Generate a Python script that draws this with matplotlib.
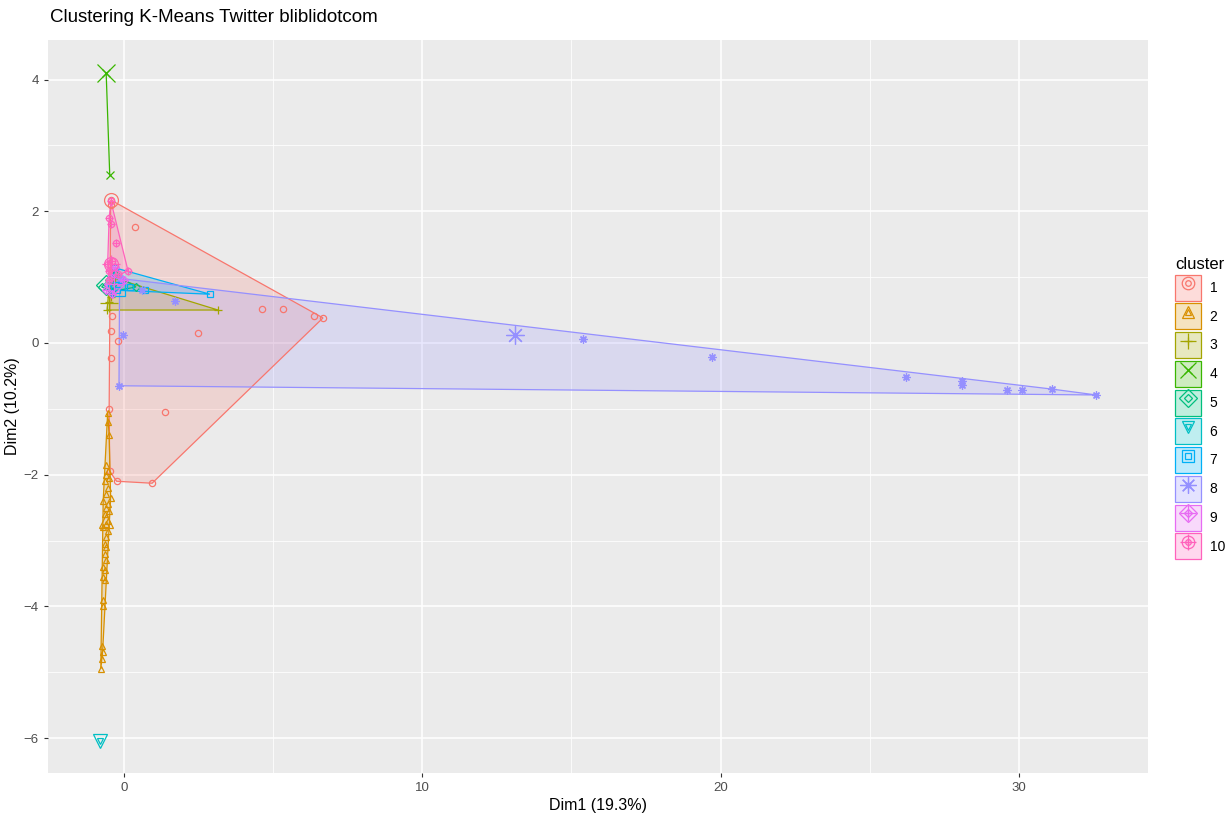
import numpy as np
import matplotlib.pyplot as plt
from matplotlib.patches import Polygon, Patch
from matplotlib.lines import Line2D
from matplotlib.legend_handler import HandlerTuple

plt.rcParams['font.family'] = ['Liberation Sans', 'DejaVu Sans']

# ggplot hue palette for 10 clusters
colors = ["#F8766D", "#D89000", "#A3A500", "#39B600", "#00BF7D",
          "#00BFC4", "#00B0F6", "#9590FF", "#E76BF3", "#FF62BC"]
labels = [str(i) for i in range(1, 11)]

# points (Dim1, Dim2), one list per cluster
cluster_1 = [(-0.44, 2.17), (-0.45, 2.10), (0.37, 1.76), (4.63, 0.52), (5.33, 0.52),
             (6.37, 0.41), (6.67, 0.38), (2.48, 0.15), (-0.42, 0.41), (-0.45, 0.18),
             (-0.20, 0.03), (-0.45, -0.23), (1.37, -1.05), (0.94, -2.13),
             (-0.50, -1.00), (-0.48, -1.95), (-0.25, -2.10)]
cluster_2 = [(-0.55, -1.06), (-0.55, -1.20), (-0.50, -1.40), (-0.60, -1.85), (-0.55, -1.95),
             (-0.60, -2.00), (-0.50, -2.05), (-0.65, -2.10), (-0.55, -2.20), (-0.60, -2.30),
             (-0.45, -2.35), (-0.70, -2.40), (-0.55, -2.45), (-0.60, -2.50), (-0.50, -2.55),
             (-0.65, -2.60), (-0.55, -2.70), (-0.60, -2.75), (-0.70, -2.80), (-0.55, -2.85),
             (-0.60, -2.95), (-0.65, -3.05), (-0.60, -3.10), (-0.65, -3.20), (-0.60, -3.30),
             (-0.70, -3.40), (-0.65, -3.45), (-0.70, -3.55), (-0.65, -3.60), (-0.70, -3.90),
             (-0.70, -4.00), (-0.75, -4.60), (-0.72, -4.70), (-0.75, -4.80), (-0.78, -4.95)]
cluster_3 = [(-0.57, 0.50), (3.15, 0.50), (-0.50, 0.62), (-0.45, 0.70), (-0.52, 0.75),
             (-0.30, 0.98)]
cluster_4 = [(-0.60, 4.10), (-0.48, 2.55)]
cluster_5 = [(-0.75, 0.85), (-0.50, 0.95), (-0.30, 1.05), (0.40, 0.85), (-0.40, 0.78)]
cluster_6 = [(-0.80, -6.05)]
cluster_7 = [(2.88, 0.74), (-0.30, 1.14), (-0.25, 0.80), (-0.45, 0.85), (-0.10, 0.95),
             (0.20, 0.85), (0.70, 0.80)]
cluster_8 = [(-0.15, 0.98), (-0.17, -0.65), (-0.05, 0.12), (1.70, 0.64), (0.60, 0.80),
             (15.4, 0.06), (19.7, -0.21), (26.2, -0.52), (28.1, -0.58), (28.1, -0.64),
             (29.6, -0.71), (30.1, -0.71), (31.1, -0.70), (32.6, -0.79)]
cluster_9 = [(-0.60, 0.80), (-0.30, 1.15), (0.00, 0.95), (-0.40, 0.75), (-0.45, 1.00)]
cluster_10 = [(-0.44, 2.15), (-0.50, 1.90), (-0.27, 1.52), (0.13, 1.10), (-0.55, 1.20),
              (-0.50, 0.95), (-0.20, 1.05), (-0.40, 1.25), (-0.45, 1.80), (-0.50, 1.10)]
clusters = [cluster_1, cluster_2, cluster_3, cluster_4, cluster_5,
            cluster_6, cluster_7, cluster_8, cluster_9, cluster_10]

# cluster centres (drawn larger)
centers = [(-0.44, 2.17), (-0.60, -2.70), (-0.50, 0.60), (-0.60, 4.10), (-0.60, 0.88),
           (-0.80, -6.05), (-0.20, 0.82), (13.1, 0.12), (-0.35, 0.90), (-0.45, 1.20)]

# marker pieces per cluster (R shapes 1..10)
asterisk = (8, 2, 0)
shapes = [["o"], ["^"], ["+"], ["x"], ["D"], ["v"], ["s"], [asterisk], ["D", "+"], ["o", "+"]]


def hull(pts):
    pts = sorted(set(pts))
    if len(pts) < 3:
        return pts
    def cross(o, a, b):
        return (a[0] - o[0]) * (b[1] - o[1]) - (a[1] - o[1]) * (b[0] - o[0])
    lower, upper = [], []
    for p in pts:
        while len(lower) >= 2 and cross(lower[-2], lower[-1], p) <= 0:
            lower.pop()
        lower.append(p)
    for p in reversed(pts):
        while len(upper) >= 2 and cross(upper[-2], upper[-1], p) <= 0:
            upper.pop()
        upper.append(p)
    return lower[:-1] + upper[:-1]


def marker_kw(m, color, size):
    open_shape = m not in ("+", "x", asterisk)
    if m == asterisk or m in ("+", "x"):
        size = size * 1.3
    kw = dict(marker=m, markersize=size, markeredgecolor=color, markeredgewidth=0.9,
              linestyle="none")
    kw["markerfacecolor"] = "none" if open_shape else color
    return kw


fig = plt.figure(figsize=(12.31, 8.23), dpi=100)
ax = fig.add_axes([48 / 1231, 1 - 773 / 823, 1100 / 1231, 733 / 823])
ax.set_facecolor("#EBEBEB")
for s in ax.spines.values():
    s.set_visible(False)

# hulls
for pts, col in zip(clusters, colors):
    h = hull(pts)
    if len(h) >= 3:
        ax.add_patch(Polygon(h, closed=True, facecolor=col, alpha=0.2, edgecolor="none", zorder=2))
        ax.add_patch(Polygon(h, closed=True, facecolor="none", edgecolor=col, linewidth=0.9, zorder=3))
    elif len(h) == 2:
        ax.plot([h[0][0], h[1][0]], [h[0][1], h[1][1]], color=col, linewidth=0.9, zorder=3)

# points and centres
for pts, cen, col, shp in zip(clusters, centers, colors, shapes):
    xs = [p[0] for p in pts]
    ys = [p[1] for p in pts]
    for m in shp:
        ax.plot(xs, ys, zorder=4, **marker_kw(m, col, 4.5))
        ax.plot([cen[0]], [cen[1]], zorder=4, **marker_kw(m, col, 10))

ax.set_xlim(-2.55, 34.33)
ax.set_ylim(-6.53, 4.6)
ax.set_xticks([0, 10, 20, 30])
ax.set_yticks([-6, -4, -2, 0, 2, 4])
ax.set_xticks([5, 15, 25], minor=True)
ax.set_yticks([-5, -3, -1, 1, 3], minor=True)
ax.grid(which="major", color="white", linewidth=1.1)
ax.grid(which="minor", color="white", linewidth=0.55)
ax.set_axisbelow(True)
ax.tick_params(which="major", length=3, width=0.8, color="#333333",
               labelcolor="#4D4D4D", labelsize=9.5)
ax.tick_params(which="minor", length=0)
ax.set_xlabel("Dim1 (19.3%)", fontsize=11.5, labelpad=3)
ax.set_ylabel("Dim2 (10.2%)", fontsize=11.5, labelpad=3)

fig.text(50 / 1231, 1 - 18 / 823, "Clustering K-Means Twitter bliblidotcom",
         ha="left", va="center", fontsize=13.5)

# legend
handles = []
for col, shp in zip(colors, shapes):
    parts = [Patch(facecolor=col + "40", edgecolor=col, linewidth=0.9)]
    for m in shp:
        parts.append(Line2D([], [], **marker_kw(m, col, 9)))
        parts.append(Line2D([], [], **marker_kw(m, col, 4)))
    handles.append(tuple(parts))
ax.legend(handles, labels, title="cluster", loc="upper left",
          bbox_to_anchor=(1168 / 1231, 1 - 250 / 823), bbox_transform=fig.transFigure,
          frameon=False, handlelength=1.9, handleheight=2.5, labelspacing=0.2,
          handletextpad=0.6, fontsize=10, title_fontsize=12, alignment="left",
          borderpad=0, handler_map={tuple: HandlerTuple(ndivide=1, pad=0)})

fig.savefig("out.png", dpi=100)
